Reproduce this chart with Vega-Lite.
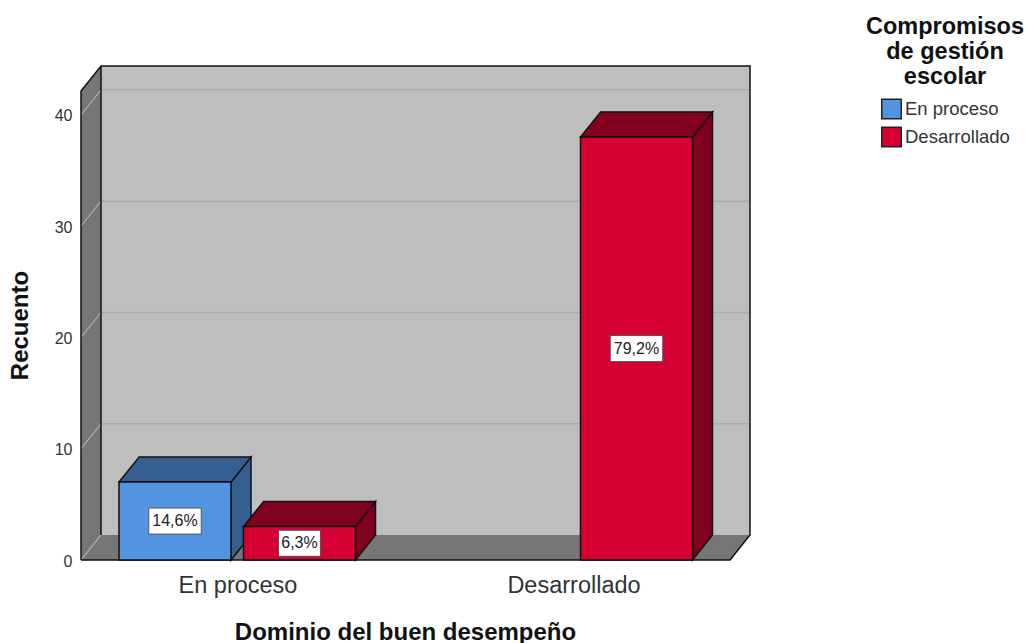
{
"$schema":"https://vega.github.io/schema/vega-lite/v6.json",
"width":669,"height":494,"autosize":"none",
"padding":{"left":81,"top":66,"right":280,"bottom":83},
"background":"white",
"datasets":{
"barras":[
{"dominio":"En proceso","compromiso":"En proceso","recuento":7,"porcentaje":"14,6%"},
{"dominio":"En proceso","compromiso":"Desarrollado","recuento":3,"porcentaje":"6,3%"},
{"dominio":"Desarrollado","compromiso":"Desarrollado","recuento":38,"porcentaje":"79,2%"}],
"marcas":[{"tick":0},{"tick":10},{"tick":20},{"tick":30},{"tick":40}],
"fondo":[{"p":0},{"p":1}]
},
"config":{"font":"Liberation Sans","view":{"stroke":null}},
"encoding":{
"x":{"field":"x","type":"quantitative","scale":{"domain":[0,669],"nice":false,"zero":false},
"axis":{"values":[156.5,492.5],"labelExpr":"datum.value<300?'En proceso':'Desarrollado'","grid":false,"ticks":false,"domain":false,"labelFontSize":23.5,"labelColor":"#333","labelPadding":13,"title":"Dominio del buen desempeño","titleFontSize":24,"titleFontWeight":"bold","titleColor":"#111","titleX":324,"titleY":72,"titleBaseline":"middle"}},
"y":{"field":"y","type":"quantitative","stack":false,"scale":{"domain":[0,44.39],"nice":false,"zero":false},
"axis":{"values":[0,10,20,30,40],"grid":false,"ticks":false,"domain":false,"labelFontSize":16,"labelColor":"#333","labelPadding":9,"labelOffset":1,"title":"Recuento","titleFontSize":24,"titleFontWeight":"bold","titleColor":"#111","titleX":-61,"titleY":259,"titleBaseline":"middle"}}
},
"layer":[
{"data":{"name":"fondo"},"transform":[{"calculate":"20+649*datum.p","as":"x"},{"calculate":"2.246","as":"y"},{"calculate":"44.39","as":"y2"}],
 "mark":{"type":"area","fill":"#BEBEBE"},"encoding":{"y2":{"field":"y2"}}},
{"data":{"name":"fondo"},"transform":[{"calculate":"20*datum.p","as":"x"},{"calculate":"2.246*datum.p","as":"y"},{"calculate":"42.14+2.246*datum.p","as":"y2"}],
 "mark":{"type":"area","fill":"#767676"},"encoding":{"y2":{"field":"y2"}}},
{"data":{"name":"fondo"},"transform":[{"calculate":"20*datum.p","as":"x"},{"calculate":"649+20*datum.p","as":"x2"},{"calculate":"2.246*datum.p","as":"y"}],
 "mark":{"type":"area","orient":"horizontal","fill":"#767676"},"encoding":{"x2":{"field":"x2"}}},
{"data":{"name":"marcas"},"transform":[{"filter":"datum.tick>0"},{"calculate":"20","as":"x"},{"calculate":"669","as":"x2"},{"calculate":"datum.tick+2.246","as":"y"}],
 "mark":{"type":"rule","stroke":"#ABABAB","strokeWidth":1.5},"encoding":{"x2":{"field":"x2"}}},
{"data":{"name":"marcas"},"transform":[{"calculate":"0","as":"x"},{"calculate":"20","as":"x2"},{"calculate":"datum.tick","as":"y"},{"calculate":"datum.tick+2.246","as":"y2"}],
 "mark":{"type":"rule","stroke":"#C4C4C4","strokeWidth":1},"encoding":{"x2":{"field":"x2"},"y2":{"field":"y2"}}},
{"data":{"name":"fondo"},"transform":[{"calculate":"datum.p*20","as":"x"},{"calculate":"20","as":"x2"},{"calculate":"2.246","as":"y"},{"calculate":"44.39","as":"y2"},{"filter":"datum.p===1"}],
 "mark":{"type":"rule","stroke":"#111","strokeWidth":1.5},"encoding":{"y2":{"field":"y2"}}},
{"data":{"values":[
{"x":0,"y":0,"o":0},{"x":0,"y":42.14,"o":1},{"x":20,"y":44.39,"o":2},{"x":669,"y":44.39,"o":3},{"x":669,"y":2.246,"o":4},{"x":649,"y":0,"o":5},{"x":0,"y":0,"o":6}]},
 "mark":{"type":"line","stroke":"#111","strokeWidth":1.5,"interpolate":"linear"},"encoding":{"order":{"field":"o"}}},
{"data":{"name":"barras"},"transform":[
 {"calculate":"datum.dominio+datum.compromiso","as":"barra"},
 {"calculate":"150+(datum.dominio==='Desarrollado'?337:0)+(datum.compromiso==='Desarrollado'?124.5:0)","as":"borde"},
 {"calculate":"[0,1]","as":"p"},{"flatten":["p"]},
 {"calculate":"datum.borde+20*datum.p","as":"x"},{"calculate":"2.246*datum.p","as":"y"},{"calculate":"datum.recuento+2.246*datum.p","as":"y2"}],
 "mark":{"type":"area","stroke":"#111","strokeWidth":1.5},
 "encoding":{"y2":{"field":"y2"},"detail":{"field":"barra"},"fill":{"condition":{"test":"datum.compromiso==='En proceso'","value":"#355E91"},"value":"#80001F"}}},
{"data":{"name":"barras"},"transform":[
 {"calculate":"datum.dominio+datum.compromiso","as":"barra"},
 {"calculate":"38+(datum.dominio==='Desarrollado'?337:0)+(datum.compromiso==='Desarrollado'?124.5:0)","as":"borde"},
 {"calculate":"[0,1]","as":"p"},{"flatten":["p"]},
 {"calculate":"datum.borde+20*datum.p","as":"x"},{"calculate":"datum.borde+112+20*datum.p","as":"x2"},{"calculate":"datum.recuento+2.246*datum.p","as":"y"}],
 "mark":{"type":"area","orient":"horizontal","stroke":"#111","strokeWidth":1.5},
 "encoding":{"x2":{"field":"x2"},"detail":{"field":"barra"},"fill":{"condition":{"test":"datum.compromiso==='En proceso'","value":"#355E91"},"value":"#80001F"}}},
{"data":{"name":"barras"},"transform":[
 {"calculate":"38+(datum.dominio==='Desarrollado'?337:0)+(datum.compromiso==='Desarrollado'?124.5:0)","as":"x"},
 {"calculate":"datum.x+112","as":"x2"},{"calculate":"0","as":"y0"},{"calculate":"datum.recuento","as":"y"}],
 "mark":{"type":"rect","stroke":"#111","strokeWidth":1.5},
 "encoding":{"x2":{"field":"x2"},"y2":{"field":"y0"},
 "fill":{"field":"compromiso","type":"nominal","scale":{"domain":["En proceso","Desarrollado"],"range":["#5294E2","#D60032"]},
 "legend":{"orient":"none","legendX":785,"legendY":-51,"title":["Compromisos","de gestión","escolar"],"titleFontSize":23.5,"titleFontWeight":"bold","titleColor":"#111","titleLineHeight":25,"titleAnchor":"middle","titleAlign":"center","titlePadding":10,"symbolType":"square","symbolSize":380,"symbolStrokeColor":"#222","symbolStrokeWidth":1.5,"symbolOpacity":1,"labelFontSize":18.5,"labelColor":"#333","symbolOffset":0,"labelOffset":3,"rowPadding":1}}}},
{"data":{"name":"barras"},"transform":[
 {"calculate":"94+(datum.dominio==='Desarrollado'?337:0)+(datum.compromiso==='Desarrollado'?124.5:0)","as":"centro"},
 {"calculate":"datum.centro-5.25*length(datum.porcentaje)","as":"x"},{"calculate":"datum.centro+5.25*length(datum.porcentaje)","as":"x2"},
 {"calculate":"datum.recuento/2-1.17","as":"y"},{"calculate":"datum.recuento/2+1.17","as":"y2"}],
 "mark":{"type":"rect","fill":"white","stroke":"#555","strokeWidth":1},
 "encoding":{"x2":{"field":"x2"},"y2":{"field":"y2"}}},
{"data":{"name":"barras"},"transform":[
 {"calculate":"94+(datum.dominio==='Desarrollado'?337:0)+(datum.compromiso==='Desarrollado'?124.5:0)","as":"x"},
 {"calculate":"datum.recuento/2","as":"y"}],
 "mark":{"type":"text","fontSize":16,"color":"#222","baseline":"middle","align":"center"},
 "encoding":{"text":{"field":"porcentaje"}}}
]
}
